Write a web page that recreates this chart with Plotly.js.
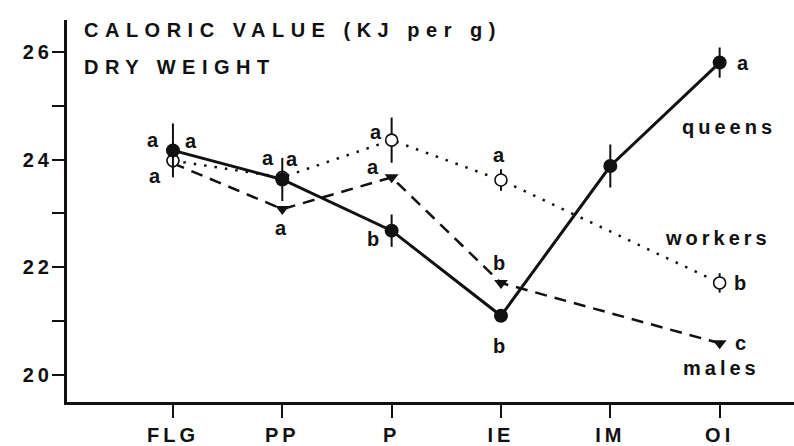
<!DOCTYPE html>
<html>
<head>
<meta charset="utf-8">
<script src="https://cdn.plot.ly/plotly-3.0.1.min.js"></script>
<style>
  html, body { margin: 0; padding: 0; background: #fff; }
  #chart { width: 794px; height: 446px; }
  .annotation-text { letter-spacing: 4px; }
  .annotation[data-index="0"] text, .annotation[data-index="1"] text { letter-spacing: 6.5px; }
  .xtick text { letter-spacing: 4px; }
  .ytick text { letter-spacing: 4px; }
</style>
</head>
<body>
<div id="chart"></div>
<script>
// ---- data ----
const categories = ['FLG', 'PP', 'P', 'IE', 'IM', 'OI'];
const queens     = [24.17, 23.63, 22.68, 21.10, 23.88, 25.80];
const queensErr  = [0.50, 0.40, 0.30, 0.00, 0.40, 0.28];
const workers    = [23.98, 23.67, 24.36, 23.62, null, 21.71];
const workersErr = [0.00, 0.00, 0.42, 0.20, 0.00, 0.18];
const males      = [23.93, 23.08, 23.67, 21.71, null, 20.59];
const queensSig  = ['a', 'a', 'b', 'b', '', 'a'];
const workersSig = ['a', 'a', 'a', 'a', '', 'b'];
const malesSig   = ['a', 'a', 'a', 'b', '', 'c'];
const yTicks     = [20, 22, 24, 26];
const titleLines = ['CALORIC VALUE (KJ per g)', 'DRY WEIGHT'];
const seriesNames = ['queens', 'workers', 'males'];

const xIdx = categories.map((c, i) => i);

const traces = [
  {
    x: xIdx, y: males, mode: 'lines+markers', connectgaps: true,
    line: { color: '#111', width: 2.5, dash: '12px,8px' },
    marker: { symbol: 'triangle-down', size: 12, color: '#111' },
    hoverinfo: 'none'
  },
  {
    x: xIdx, y: workers, mode: 'lines+markers', connectgaps: true,
    line: { color: '#111', width: 2.5, dash: '2.5px,8px' },
    marker: { symbol: 'circle', size: 12, color: '#fff', line: { color: '#111', width: 1.6 } },
    error_y: { type: 'data', array: workersErr, visible: true, color: '#111', thickness: 2, width: 0 },
    hoverinfo: 'none'
  },
  {
    x: xIdx, y: queens, mode: 'lines+markers',
    line: { color: '#111', width: 3 },
    marker: { symbol: 'circle', size: 14, color: '#111' },
    error_y: { type: 'data', array: queensErr, visible: true, color: '#111', thickness: 2, width: 0 },
    hoverinfo: 'none'
  }
];

const FAM = 'Liberation Sans, Arial, sans-serif';
const letterFont = { family: FAM, size: 20, color: '#111', weight: 'bold' };
const annotations = [];
// title lines (index 0, 1)
annotations.push({ xref: 'paper', yref: 'paper', x: 0.02, y: 0.974, xanchor: 'left', yanchor: 'middle', align: 'left',
  text: titleLines[0], showarrow: false, font: { family: FAM, size: 20, color: '#111', weight: 'bold' } });
annotations.push({ xref: 'paper', yref: 'paper', x: 0.02, y: 0.877, xanchor: 'left', yanchor: 'middle', align: 'left',
  text: titleLines[1], showarrow: false, font: { family: FAM, size: 20, color: '#111', weight: 'bold' } });
// series names
const namePos = [[0.911, 0.72], [0.896, 0.429], [0.9, 0.089]];
seriesNames.forEach((n, i) => {
  annotations.push({ xref: 'paper', yref: 'paper', x: namePos[i][0], y: namePos[i][1], xanchor: 'center', yanchor: 'middle',
    text: n, showarrow: false, font: { family: FAM, size: 20, color: '#111', weight: 'bold' } });
});
// significance letters (pixel nudges relative to each point)
const qShift = [[-18, 10], [11, 20], [-17, -8], [0, -30], [0, 0], [25, 0]];
const wShift = [[20, 20], [-13, 19], [-14, 8], [0, 25], [0, 0], [22, 0]];
const mShift = [[-16, -13], [0, -19], [-17, 10], [0, 20], [0, 0], [23, 0]];
function addLetters(sig, vals, shifts) {
  sig.forEach((s, i) => {
    if (!s || vals[i] == null) return;
    annotations.push({ x: xIdx[i], y: vals[i], xref: 'x', yref: 'y', text: s, showarrow: false,
      xshift: shifts[i][0], yshift: shifts[i][1], xanchor: 'center', yanchor: 'middle', font: letterFont });
  });
}
addLetters(queensSig, queens, qShift);
addLetters(workersSig, workers, wShift);
addLetters(malesSig, males, mShift);

const tickFont = { family: FAM, size: 20, color: '#111', weight: 'bold' };

const layout = {
  width: 794, height: 446,
  margin: { l: 67, r: 0, t: 20, b: 44 },
  paper_bgcolor: '#fff', plot_bgcolor: '#fff',
  showlegend: false,
  xaxis: {
    range: [-0.969, 5.68], tickmode: 'array', tickvals: xIdx, ticktext: categories,
    showline: true, linecolor: '#111', linewidth: 3, showgrid: false, zeroline: false,
    ticks: 'outside', ticklen: 13, tickwidth: 2, tickcolor: '#111', tickfont: tickFont
  },
  yaxis: {
    range: [19.5, 26.59], tickmode: 'array', tickvals: yTicks,
    showline: true, linecolor: '#111', linewidth: 3, showgrid: false, zeroline: false,
    ticks: 'outside', ticklen: 12, tickwidth: 2, tickcolor: '#111', tickfont: tickFont,
    ticklabelstandoff: -5,
    minor: { dtick: 1, tick0: 21, ticks: 'outside', ticklen: 12, tickwidth: 2, tickcolor: '#111', showgrid: false }
  },
  annotations: annotations
};

Plotly.newPlot('chart', traces, layout, { staticPlot: true, displayModeBar: false });
</script>
</body>
</html>
